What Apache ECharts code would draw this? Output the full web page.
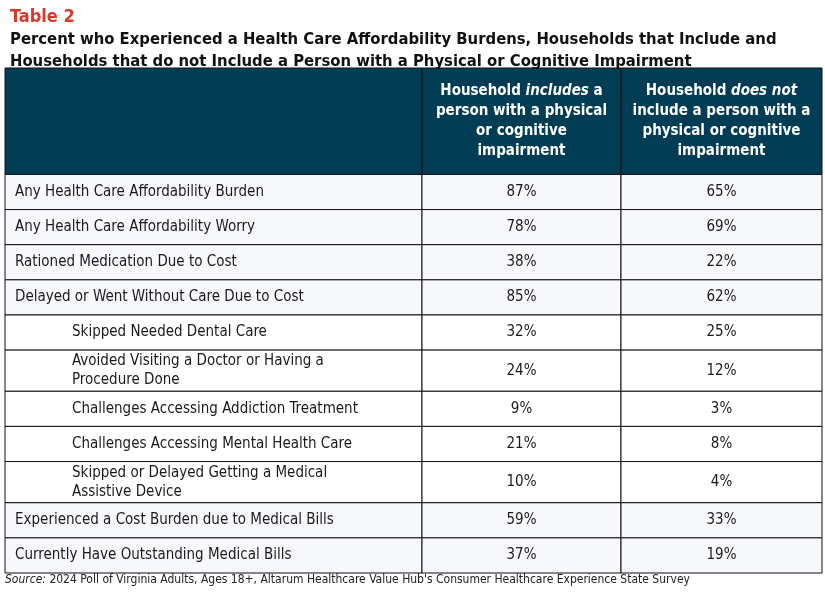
<!DOCTYPE html>
<html><head><meta charset="utf-8">
<script src="https://cdn.jsdelivr.net/npm/echarts@6/dist/echarts.min.js"></script>
<style>html,body{margin:0;padding:0;background:#fff}#c{width:825px;height:592px}</style>
</head><body><div id="c"></div>
<script>
// table content
var labels = [
  'Any Health Care Affordability Burden',
  'Any Health Care Affordability Worry',
  'Rationed Medication Due to Cost',
  'Delayed or Went Without Care Due to Cost',
  'Skipped Needed Dental Care',
  'Avoided Visiting a Doctor or Having a\nProcedure Done',
  'Challenges Accessing Addiction Treatment',
  'Challenges Accessing Mental Health Care',
  'Skipped or Delayed Getting a Medical\nAssistive Device',
  'Experienced a Cost Burden due to Medical Bills',
  'Currently Have Outstanding Medical Bills'
];
var subRow = [0, 0, 0, 0, 1, 1, 1, 1, 1, 0, 0];
var includes = [87, 78, 38, 85, 32, 24, 9, 21, 10, 59, 37];
var doesNot = [65, 69, 22, 62, 25, 12, 3, 8, 4, 33, 19];

var FONT = "'DejaVu Sans Condensed','Liberation Sans Narrow',sans-serif";
var colEdges = [0, 417, 616, 817];
var headerH = 106;
var rowH = labels.map(function (l) { return l.indexOf('\n') >= 0 ? 41 : 35; });
var rowTop = [headerH];
for (var i = 1; i < labels.length; i++) rowTop.push(rowTop[i - 1] + rowH[i - 1]);
var total = rowTop[labels.length - 1] + rowH[labels.length - 1];

var rows = labels.map(function (l, i) { return [i]; });

function renderItem(params, api) {
  var i = api.value(0);
  var y0 = rowTop[i], y1 = y0 + rowH[i];
  var fill = subRow[i] ? '#ffffff' : '#f7f8fc';
  var texts = [labels[i], includes[i] + '%', doesNot[i] + '%'];
  var children = [];
  for (var c = 0; c < 3; c++) {
    var p0 = api.coord([colEdges[c], y0]);
    var p1 = api.coord([colEdges[c + 1], y1]);
    children.push({
      type: 'rect',
      shape: { x: p0[0], y: p0[1], width: p1[0] - p0[0], height: p1[1] - p0[1] },
      style: { fill: fill, stroke: '#111', lineWidth: 1 }
    });
    var left = c === 0;
    children.push({
      type: 'text',
      style: {
        text: texts[c],
        x: left ? p0[0] + (subRow[i] ? 67 : 10) : (p0[0] + p1[0]) / 2,
        y: (p0[1] + p1[1]) / 2,
        align: left ? 'left' : 'center',
        verticalAlign: 'middle',
        font: '15px ' + FONT,
        lineHeight: 19,
        fill: '#1a1a1a'
      }
    });
  }
  return { type: 'group', children: children };
}

function renderHeader(params, api) {
  var p0 = api.coord([colEdges[0], 0]);
  var p1 = api.coord([colEdges[1], headerH]);
  var p2 = api.coord([colEdges[2], headerH]);
  var p3 = api.coord([colEdges[3], headerH]);
  var rich = {
    b: { font: 'bold 15px ' + FONT, fill: '#fff', lineHeight: 20 },
    i: { font: 'italic bold 15px ' + FONT, fill: '#fff', lineHeight: 20 }
  };
  function hdr(x0, x1, text) {
    return [{
      type: 'rect',
      shape: { x: x0, y: p0[1], width: x1 - x0, height: p1[1] - p0[1] },
      style: { fill: '#003d54', stroke: '#111', lineWidth: 1 }
    }, {
      type: 'text',
      style: {
        text: text, rich: rich, x: (x0 + x1) / 2, y: (p0[1] + p1[1]) / 2,
        align: 'center', verticalAlign: 'middle', fill: '#fff'
      }
    }];
  }
  return {
    type: 'group',
    children: [].concat(
      hdr(p0[0], p1[0], ''),
      hdr(p1[0], p2[0], '{b|Household }{i|includes}{b| a}\n{b|person with a physical}\n{b|or cognitive}\n{b|impairment}'),
      hdr(p2[0], p3[0], '{b|Household }{i|does not}\n{b|include a person with a}\n{b|physical or cognitive}\n{b|impairment}')
    )
  };
}

var chart = echarts.init(document.getElementById('c'));
chart.setOption({
  animation: false,
  title: [{
    text: 'Table 2', left: 5, top: 3,
    textStyle: { color: '#d7392b', fontFamily: FONT, fontWeight: 'bold', fontSize: 18 }
  }, {
    text: 'Percent who Experienced a Health Care Affordability Burdens, Households that Include and\nHouseholds that do not Include a Person with a Physical or Cognitive Impairment',
    left: 5, top: 24,
    textStyle: { color: '#111', fontFamily: FONT, fontWeight: 'bold', fontSize: 16.5, lineHeight: 22 }
  }],
  graphic: [{
    type: 'text', left: 5, top: 574,
    style: {
      text: '{i|Source:} 2024 Poll of Virginia Adults, Ages 18+, Altarum Healthcare Value Hub\'s Consumer Healthcare Experience State Survey',
      font: '12px ' + FONT, fill: '#222',
      rich: { i: { font: 'italic 12px ' + FONT, fill: '#222' } }
    }
  }],
  grid: { left: 5, right: 3, top: 68, bottom: 19 },
  xAxis: { type: 'value', min: 0, max: colEdges[3], show: false },
  yAxis: { type: 'value', min: 0, max: total, inverse: true, show: false },
  series: [
    { type: 'custom', renderItem: renderHeader, data: [[0]], silent: true },
    { type: 'custom', renderItem: renderItem, data: rows, silent: true }
  ]
});
</script></body></html>
